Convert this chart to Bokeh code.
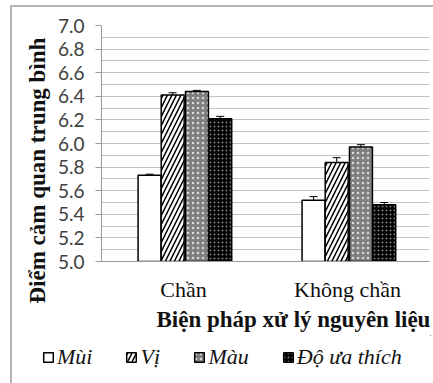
from bokeh.plotting import figure
from bokeh.layouts import column
from bokeh.models import (FactorRange, ColumnDataSource, Whisker, FixedTicker, NumeralTickFormatter,
                          Legend, LegendItem, Range1d, Title, InlineStyleSheet)
from bokeh.transform import dodge
from bokeh.embed import file_html
from bokeh.resources import INLINE

categories = ["Chần", "Không chần"]
series = ["Mùi", "Vị", "Màu", "Độ ưa thích"]
mui = [5.73, 5.52]
vi = [6.41, 5.84]
mau = [6.44, 5.97]
do_ua = [6.21, 5.48]
mui_err = [0.01, 0.03]
vi_err = [0.02, 0.04]
mau_err = [0.01, 0.02]
do_err = [0.02, 0.02]
y_ticks = [5.0, 5.2, 5.4, 5.6, 5.8, 6.0, 6.2, 6.4, 6.6, 6.8, 7.0]
x_title = "Biện pháp xử lý nguyên liệu"
y_title = "Điểm cảm quan trung bình"

H1 = 335
p = figure(width=431, height=H1, x_range=FactorRange(*categories, range_padding=0),
           y_range=Range1d(5.0, 7.0), output_backend="svg", toolbar_location=None,
           min_border_left=101, min_border_right=2, min_border_top=25, min_border_bottom=H1 - 261)
p.outline_line_color = None
p.background_fill_color = "white"

data = dict(cat=categories, mui=mui, vi=vi, mau=mau, do_ua=do_ua)
for key, err in [("mui", mui_err), ("vi", vi_err), ("mau", mau_err), ("do_ua", do_err)]:
    vals = data[key]
    data[key + "_lo"] = [v - e for v, e in zip(vals, err)]
    data[key + "_hi"] = [v + e for v, e in zip(vals, err)]
src = ColumnDataSource(data)

offsets = [-0.207, -0.066, 0.082, 0.224]
styles = [
    dict(fill_color="white"),
    dict(fill_color="white", hatch_pattern="right_diagonal_line", hatch_color="black", hatch_scale=9, hatch_weight=1.5),
    dict(fill_color="#7f7f7f", hatch_pattern="dot", hatch_color="#d8d8d8", hatch_scale=5, hatch_weight=1.2),
    dict(fill_color="black", hatch_pattern="dot", hatch_color="#808080", hatch_scale=4, hatch_weight=1.2),
]
keys = ["mui", "vi", "mau", "do_ua"]
for k, off, st in zip(keys, offsets, styles):
    p.vbar(x=dodge("cat", off, range=p.x_range), top=k, bottom=5.0, width=0.14, source=src,
           line_color="black", line_width=1.5, **st)
    w = Whisker(base=dodge("cat", off, range=p.x_range), lower=k + "_lo", upper=k + "_hi", source=src,
                line_color="black", line_width=1)
    w.upper_head.size = 8
    w.lower_head.size = 8
    w.upper_head.line_color = "black"
    w.lower_head.line_color = "black"
    p.add_layout(w)

p.yaxis.ticker = FixedTicker(ticks=y_ticks, minor_ticks=[5 + 0.1 * i for i in range(21)])
p.yaxis.formatter = NumeralTickFormatter(format="0.0")
p.yaxis.major_label_text_font = "Lato"
p.yaxis.major_label_text_font_size = "19px"
p.yaxis.major_label_text_color = "#404040"
p.yaxis.major_label_standoff = 11
p.yaxis.axis_line_color = "#9a9a9a"
p.yaxis.major_tick_line_color = "#9a9a9a"
p.yaxis.major_tick_out = 6
p.yaxis.major_tick_in = 0
p.yaxis.minor_tick_line_color = None

p.xaxis.major_label_text_font = "Liberation Serif"
p.xaxis.major_label_text_font_size = "22px"
p.xaxis.major_label_text_color = "#111111"
p.xaxis.major_label_standoff = 9
p.xaxis.axis_line_color = "#9a9a9a"
p.xaxis.major_tick_line_color = None
p.xaxis.minor_tick_line_color = None

p.xgrid.grid_line_color = None
p.ygrid.grid_line_color = "#c4c4c4"
p.ygrid.minor_grid_line_color = "#c4c4c4"

xt = Title(text=x_title, align="left", offset=55, text_font="Liberation Serif", text_font_style="bold",
           text_font_size="23px", text_color="#111111", standoff=0)
p.add_layout(xt, "below")
yt = Title(text=y_title, align="left", offset=-42, text_font="Liberation Serif", text_font_style="bold",
           text_font_size="23px", text_color="#111111")
p.add_layout(yt, "left")

# legend row (separate strip with swatch renderers in the same styles)
H2 = 46
lf = figure(width=431, height=H2, x_range=Range1d(0, 1), y_range=Range1d(0, 1),
            output_backend="svg", toolbar_location=None, x_axis_location=None, y_axis_location=None,
            min_border=0)
if "frame_align" in lf.properties():
    lf.frame_align = False
    p.frame_align = False
lf.outline_line_color = None
lf.xgrid.grid_line_color = None
lf.ygrid.grid_line_color = None
swatches = []
for k, st in zip(keys, styles):
    swatches.append(lf.vbar(x=k, top=k, bottom=5.0, width=0.1, source=src,
                            line_color="black", line_width=1.5, **st))
lg = Legend(items=[LegendItem(label=n, renderers=[r]) for n, r in zip(series, swatches)],
            location=(42, 11), orientation="horizontal", padding=0, margin=0, border_line_color=None,
            background_fill_alpha=0, glyph_width=12, glyph_height=12, label_standoff=3,
            label_text_font="Liberation Serif", label_text_font_style="italic",
            label_text_font_size="22px", label_text_color="#111111", spacing=33)
lf.add_layout(lg, "center")

frame_css = InlineStyleSheet(css=""":host { position: relative; }
:host::after { content: ""; position: absolute; left: 10px; top: 5px; width: 421px; height: 376px;
  border-left: 2px solid #b4b4b4; border-top: 2px solid #b4b4b4; pointer-events: none; z-index: 5; }""")
layout = column(p, lf, spacing=0, stylesheets=[frame_css])
open("out.html", "w").write(file_html(layout, INLINE))
